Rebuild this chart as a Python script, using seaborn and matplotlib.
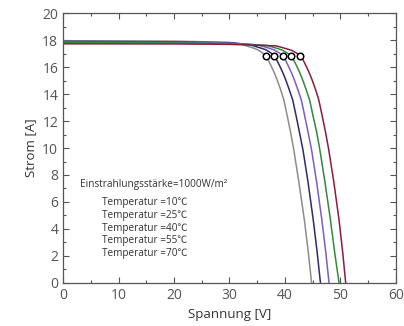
import numpy as np
import pandas as pd
import matplotlib
matplotlib.use("Agg")
import matplotlib.pyplot as plt
import seaborn as sns
from matplotlib.ticker import MultipleLocator

# --------------------------------------------------
# Data (voltage V, current A)
# --------------------------------------------------
temps = ["10", "25", "40", "55", "70"]

# current levels along the knee / drop, shared by all curves
i_drop = [16.84, 16.5, 16.0, 15.55, 15.04, 14.35, 13.56, 12.4, 11.2, 9.85, 7.5, 4.67, 2.3, 0]

v_10 = [0, 20, 30, 32.0, 33.0, 34.0, 35.0, 35.8,
        36.5, 37.0, 37.6, 38.1, 38.6, 39.2, 39.8, 40.4, 41.0, 41.6, 42.5, 43.5, 44.2, 44.8]
i_10 = [17.95, 17.92, 17.83, 17.7, 17.57, 17.45, 17.3, 17.1] + i_drop

v_25 = [0, 20, 30, 33.55, 34.55, 35.55, 36.55, 37.35,
        38.05, 38.55, 39.15, 39.65, 40.15, 40.75, 41.4, 42.0, 42.6, 43.25, 44.15, 45.1, 45.8, 46.4]
i_25 = [17.9, 17.87, 17.8, 17.67, 17.54, 17.42, 17.28, 17.08] + i_drop

v_40 = [0, 20, 30, 35.1, 36.1, 37.1, 38.1, 38.9,
        39.6, 40.1, 40.7, 41.2, 41.7, 42.3, 42.95, 43.55, 44.15, 44.8, 45.7, 46.65, 47.35, 47.95]
i_40 = [17.85, 17.83, 17.78, 17.64, 17.52, 17.4, 17.26, 17.06] + i_drop

v_55 = [0, 20, 30, 36.6, 37.6, 38.6, 39.6, 40.4,
        41.1, 41.6, 42.2, 42.7, 43.2, 43.8, 44.45, 45.05, 45.7, 46.3, 47.2, 48.2, 48.95, 49.75]
i_55 = [17.8, 17.78, 17.74, 17.61, 17.5, 17.38, 17.24, 17.04] + i_drop

v_70 = [0, 20, 30, 38.3, 39.3, 40.3, 41.3, 42.1,
        42.8, 43.3, 43.9, 44.4, 44.9, 45.5, 46.1, 46.7, 47.3, 47.9, 48.8, 49.75, 50.4, 50.95]
i_70 = [17.72, 17.71, 17.68, 17.57, 17.47, 17.35, 17.22, 17.03] + i_drop

# maximum power points (circles)
mpp_v = [36.5, 38.05, 39.6, 41.1, 42.8]
mpp_i = [16.84, 16.84, 16.84, 16.84, 16.84]

colors = ["#8c8c8c", "#2d2a6e", "#7b5cc8", "#2f8a3c", "#8c1c3e"]

frames = []
for t, v, i in zip(temps, [v_10, v_25, v_40, v_55, v_70], [i_10, i_25, i_40, i_55, i_70]):
    frames.append(pd.DataFrame({"V": v, "I": i, "T": t}))
df = pd.concat(frames, ignore_index=True)
mpp = pd.DataFrame({"V": mpp_v, "I": mpp_i})

# --------------------------------------------------
# Plot
# --------------------------------------------------
sns.set_style("ticks")
plt.rcParams["font.family"] = ["Open Sans", "Noto Sans CJK SC", "DejaVu Sans"]

fig = plt.figure(figsize=(4.04, 3.26), dpi=100)
ax = fig.add_axes([0.156, 0.132, 0.824, 0.828])

sns.lineplot(data=df, x="V", y="I", hue="T", palette=colors, sort=False,
             linewidth=1.1, legend=False, ax=ax)
sns.scatterplot(data=mpp, x="V", y="I", s=22, facecolor="white",
                edgecolor="black", linewidth=1.1, zorder=5, ax=ax)

ax.set_xlim(0, 60)
ax.set_ylim(0, 20)
ax.xaxis.set_major_locator(MultipleLocator(10))
ax.xaxis.set_minor_locator(MultipleLocator(5))
ax.yaxis.set_major_locator(MultipleLocator(2))
ax.yaxis.set_minor_locator(MultipleLocator(1))

grey = "#555555"
for s in ax.spines.values():
    s.set_color(grey)
    s.set_linewidth(0.9)
ax.tick_params(which="both", direction="in", top=True, right=True, color=grey,
               labelcolor=grey, labelsize=10, width=0.8)
ax.tick_params(which="major", length=4)
ax.tick_params(which="minor", length=2)

ax.set_xlabel("Spannung [V]", color="#333333", fontsize=9.5)
ax.set_ylabel("Strom [A]", color="#333333", fontsize=9.5)

ax.text(3.0, 7.3, "Einstrahlungsstärke=1000W/m²", fontsize=7.2, color="#333333", va="center")
for k, t in enumerate(temps):
    ax.text(7.0, 5.93 - 0.94 * k, f"Temperatur ={t}℃", fontsize=7.2,
            color="#333333", va="center")

fig.savefig("out.png", dpi=100)
